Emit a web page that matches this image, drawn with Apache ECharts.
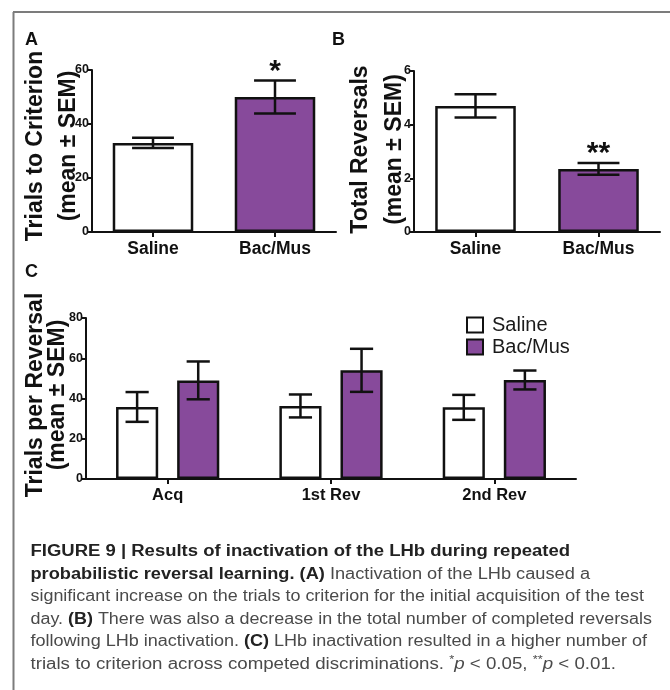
<!DOCTYPE html>
<html><head><meta charset="utf-8">
<script src="https://cdn.jsdelivr.net/npm/echarts@6/dist/echarts.min.js"></script>
<style>html,body{margin:0;padding:0;background:#fff}#c{width:670px;height:690px}</style>
</head><body><div id="c"></div>
<script>
// ---- data ----
const groups = ['Saline', 'Bac/Mus'];
const aMeans = [33, 50];
const aSems = [1.9, 6.1];
const aSig = ['', '*'];
const bMeans = [4.7, 2.35];
const bSems = [0.43, 0.22];
const bSig = ['', '**'];
const cCategories = ['Acq', '1st Rev', '2nd Rev'];
const cSaline = [35.8, 36.3, 35.6];
const cSalineSem = [7.4, 5.7, 6.2];
const cBacMus = [49.0, 54.0, 49.2];
const cBacMusSem = [9.4, 10.7, 4.7];
const aTitle = 'Trials to Criterion\n(mean ± SEM)';
const bTitle = 'Total Reversals\n(mean ± SEM)';
const cTitle = 'Trials per Reversal\n(mean ± SEM)';
const captionLines = [
  [['b', 'FIGURE 9 | Results of inactivation of the LHb during repeated']],
  [['b', 'probabilistic reversal learning. '], ['b', '(A)'], ['n', ' Inactivation of the LHb caused a']],
  [['n', 'significant increase on the trials to criterion for the initial acquisition of the test']],
  [['n', 'day. '], ['b', '(B)'], ['n', ' There was also a decrease in the total number of completed reversals']],
  [['n', 'following LHb inactivation. '], ['b', '(C)'], ['n', ' LHb inactivation resulted in a higher number of']],
  [['n', 'trials to criterion across competed discriminations. '], ['s', '*'], ['i', 'p'], ['n', ' < 0.05, '], ['s', '**'], ['i', 'p'], ['n', ' < 0.01.']]
];

// ---- style ----
const FF = '"Liberation Sans", Arial, Helvetica, sans-serif';
const WHITE = '#ffffff';
const PURPLE = '#874a9b';
const INK = '#111111';
const groupColors = [WHITE, PURPLE];

function yAx(gi, max, interval, name, gap, lh, pad) {
  return {
    type: 'value', gridIndex: gi, min: 0, max: max, interval: interval,
    axisLine: {show: true, lineStyle: {color: INK, width: 2}},
    axisTick: {show: true, length: 4, lineStyle: {color: INK, width: 2}},
    splitLine: {show: false},
    axisLabel: {fontSize: 12.5, fontWeight: 'bold', color: INK, margin: 3, fontFamily: FF},
    name: name, nameLocation: 'middle', nameRotate: 90, nameGap: gap, nameMoveOverlap: false,
    nameTextStyle: {fontSize: 23, fontWeight: 'bold', color: INK, fontFamily: FF, lineHeight: lh, padding: [0, 0, 0, pad]}
  };
}
function xAx(gi, data, fs) {
  return {
    type: 'category', gridIndex: gi, data: data,
    axisLine: {show: true, lineStyle: {color: INK, width: 2}},
    axisTick: {show: true, alignWithLabel: true, length: 5, lineStyle: {color: INK, width: 2}},
    axisLabel: {fontSize: fs, fontWeight: 'bold', color: INK, margin: 8, interval: 0, fontFamily: FF}
  };
}
function errSeries(name, gi, means, sems, sigs, barRatio, slot, nSlots, gapRatio, capRatio, sigSize) {
  return {
    type: 'custom', name: name, xAxisIndex: gi, yAxisIndex: gi, z: 5, silent: true,
    data: means.map((m, i) => [i, m, sems[i]]),
    renderItem: function (params, api) {
      const i = api.value(0), m = api.value(1), s = api.value(2);
      const band = api.size([1, 0])[0];
      const bw = band * barRatio;
      const gap = bw * gapRatio;
      const total = nSlots * bw + (nSlots - 1) * gap;
      const c = api.coord([i, m]);
      const cx = c[0] - total / 2 + slot * (bw + gap) + bw / 2;
      const yt = api.coord([i, m + s])[1];
      const yb = api.coord([i, m - s])[1];
      const hw = bw * capRatio / 2;
      const st = {stroke: INK, lineWidth: 2.5};
      const ch = [
        {type: 'line', shape: {x1: cx, y1: yt, x2: cx, y2: yb}, style: st},
        {type: 'line', shape: {x1: cx - hw, y1: yt, x2: cx + hw, y2: yt}, style: st},
        {type: 'line', shape: {x1: cx - hw, y1: yb, x2: cx + hw, y2: yb}, style: st}
      ];
      const sig = sigs ? sigs[params.dataIndex] : '';
      if (sig) {
        ch.push({type: 'text', x: cx, y: yt + 6, style: {text: sig, fontSize: sigSize, fontWeight: 'bold', fontFamily: FF, fill: INK, align: 'center', verticalAlign: 'bottom'}});
      }
      return {type: 'group', children: ch};
    }
  };
}

// ---- caption (rich text lines, fitted to the reference line lengths) ----
const capStart = 30.5;
const capEnds = [570, 590, 644, 652, 647, 616];
const capMid = [551.5, 574.5, 597, 619.5, 642, 664.5];
const capFonts = {
  b: {fontWeight: 'bold', fontStyle: 'normal', fontSize: 16, color: '#222222'},
  n: {fontWeight: 'normal', fontStyle: 'normal', fontSize: 16, color: '#4a4a4a'},
  i: {fontWeight: 'normal', fontStyle: 'italic', fontSize: 16, color: '#4a4a4a'},
  s: {fontWeight: 'normal', fontStyle: 'normal', fontSize: 11, color: '#4a4a4a'}
};
const mctx = document.createElement('canvas').getContext('2d');
function measure(tokens) {
  let w = 0;
  tokens.forEach(t => {
    const f = capFonts[t[0]];
    mctx.font = f.fontStyle + ' ' + f.fontWeight + ' ' + f.fontSize + 'px ' + FF;
    w += mctx.measureText(t[1]).width;
  });
  return w;
}
const rich = {};
Object.keys(capFonts).forEach(k => {
  const f = capFonts[k];
  rich[k] = {fontWeight: f.fontWeight, fontStyle: f.fontStyle, fontSize: f.fontSize, fontFamily: FF, fill: f.color, lineHeight: 20};
});
rich.s.verticalAlign = 'top';
rich.s.lineHeight = 14;
const captionGraphics = captionLines.map((tokens, li) => {
  const w = measure(tokens);
  const sx = (capEnds[li] - capStart) / w;
  return {
    type: 'text', x: capStart, y: capMid[li], scaleX: sx,
    style: {text: tokens.map(t => '{' + t[0] + '|' + t[1] + '}').join(''), rich: rich, align: 'left', verticalAlign: 'middle'}
  };
});

const panelLetter = (t, x, y) => ({type: 'text', x: x, y: y, style: {text: t, fontSize: 18, fontWeight: 'bold', fontFamily: FF, fill: INK, align: 'left', verticalAlign: 'top'}});

const chart = echarts.init(document.getElementById('c'), null, {renderer: 'canvas'});
chart.setOption({
  backgroundColor: '#ffffff',
  animation: false,
  grid: [
    {left: 92, top: 70, width: 244, height: 162, outerBoundsMode: 'none'},
    {left: 414, top: 71, width: 246, height: 161, outerBoundsMode: 'none'},
    {left: 86, top: 318, width: 490, height: 161, outerBoundsMode: 'none'}
  ],
  xAxis: [xAx(0, groups, 17.5), xAx(1, groups, 17.5), xAx(2, cCategories, 16.5)],
  yAxis: [
    yAx(0, 60, 20, aTitle, 7, 33, 10),
    yAx(1, 6, 2, bTitle, 2.5, 34, 4),
    yAx(2, 80, 20, cTitle, 17, 22, 7)
  ],
  legend: {
    data: groups, orient: 'vertical', left: 466, top: 315, padding: 0, icon: 'rect',
    itemWidth: 16, itemHeight: 15, itemGap: 2, selectedMode: false,
    itemStyle: {borderColor: INK, borderWidth: 2},
    textStyle: {fontSize: 20, fontFamily: FF, color: '#1a1a1a', padding: [0, 0, 0, 4]}
  },
  series: [
    {type: 'bar', name: 'panelA', xAxisIndex: 0, yAxisIndex: 0, barWidth: '66%',
     data: aMeans.map((v, i) => ({value: v, itemStyle: {color: groupColors[i]}})),
     itemStyle: {borderColor: INK, borderWidth: 2.5}},
    errSeries('errA', 0, aMeans, aSems, aSig, 0.66, 0, 1, 0, 0.52, 30),
    {type: 'bar', name: 'panelB', xAxisIndex: 1, yAxisIndex: 1, barWidth: '65.5%',
     data: bMeans.map((v, i) => ({value: v, itemStyle: {color: groupColors[i]}})),
     itemStyle: {borderColor: INK, borderWidth: 2.5}},
    errSeries('errB', 1, bMeans, bSems, bSig, 0.655, 0, 1, 0, 0.52, 30),
    {type: 'bar', name: groups[0], xAxisIndex: 2, yAxisIndex: 2, barWidth: '25.8%', barGap: '45%',
     data: cSaline, itemStyle: {color: WHITE, borderColor: INK, borderWidth: 2.5}},
    {type: 'bar', name: groups[1], xAxisIndex: 2, yAxisIndex: 2, barWidth: '25.8%', barGap: '45%',
     data: cBacMus, itemStyle: {color: PURPLE, borderColor: INK, borderWidth: 2.5}},
    errSeries('errC1', 2, cSaline, cSalineSem, null, 0.258, 0, 2, 0.45, 0.55, 30),
    errSeries('errC2', 2, cBacMus, cBacMusSem, null, 0.258, 1, 2, 0.45, 0.55, 30)
  ],
  graphic: [
    {type: 'line', shape: {x1: 13, y1: 12, x2: 670, y2: 12}, style: {stroke: '#7c7c7c', lineWidth: 2}},
    {type: 'line', shape: {x1: 13.5, y1: 12, x2: 13.5, y2: 690}, style: {stroke: '#7c7c7c', lineWidth: 2}},
    panelLetter('A', 25, 31.5),
    panelLetter('B', 332, 31.5),
    panelLetter('C', 25, 263.5)
  ].concat(captionGraphics)
});
</script>
</body></html>
